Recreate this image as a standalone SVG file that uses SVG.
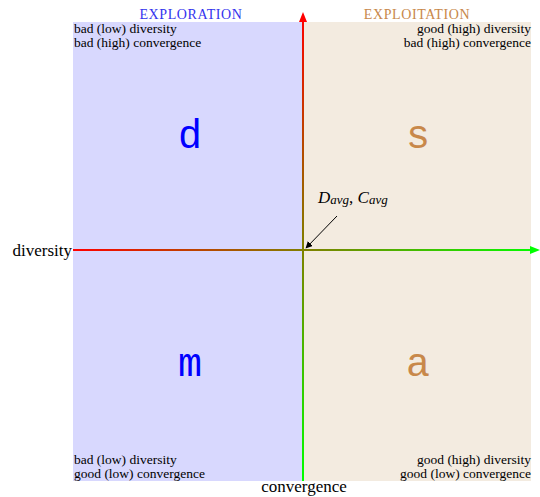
<svg xmlns="http://www.w3.org/2000/svg" width="540" height="497" viewBox="0 0 540 497">
<style>
.t{font-family:"Liberation Serif",serif;font-size:13.5px;fill:#000}
.r{text-anchor:end}
.big{font-family:"Liberation Mono",monospace;font-size:40px;text-anchor:middle}
.hd{font-family:"Liberation Serif",serif;font-size:14px;text-anchor:middle;letter-spacing:0.6px}
.ax{font-family:"Liberation Serif",serif;font-size:17px;fill:#000}
</style>
<defs>
<linearGradient id="gh" x1="73" y1="0" x2="540" y2="0" gradientUnits="userSpaceOnUse">
<stop offset="0" stop-color="#ff0000"/><stop offset="1" stop-color="#00ff00"/>
</linearGradient>
<linearGradient id="gv" x1="0" y1="481" x2="0" y2="12" gradientUnits="userSpaceOnUse">
<stop offset="0" stop-color="#00ff00"/><stop offset="1" stop-color="#ff0000"/>
</linearGradient>
<marker id="ar" viewBox="0 0 10 10" refX="9" refY="5" markerWidth="7" markerHeight="7" orient="auto" markerUnits="userSpaceOnUse"><path d="M0,0 L10,5 L0,10 z" fill="#000"/></marker>
</defs>
<g id="exploration">
<rect x="73" y="22" width="230" height="459" fill="#d8d8fe"/>
<text class="hd" x="191" y="19" fill="#3333ee">EXPLORATION</text>
<text class="t" x="74" y="33">bad (low) diversity</text>
<text class="t" x="74" y="47">bad (high) convergence</text>
<text class="t" x="74" y="464">bad (low) diversity</text>
<text class="t" x="74" y="478">good (low) convergence</text>
<text class="big" x="190" y="148" fill="#0000ff">d</text>
<text class="big" x="190" y="376" fill="#0000ff">m</text>
</g>
<g id="exploitation">
<rect x="303" y="22" width="228" height="459" fill="#f3ebe0"/>
<text class="hd" x="417" y="19" fill="#c8884a">EXPLOITATION</text>
<text class="t r" x="531" y="33">good (high) diversity</text>
<text class="t r" x="531" y="47">bad (high) convergence</text>
<text class="t r" x="531" y="464">good (high) diversity</text>
<text class="t r" x="531" y="478">good (low) convergence</text>
<text class="big" x="418" y="148" fill="#c8884a">s</text>
<text class="big" x="418" y="376" fill="#c8884a">a</text>
</g>
<g id="connectors">
<line x1="73" y1="250" x2="533" y2="250" stroke="url(#gh)" stroke-width="2"/>
<path d="M540,250 L530,246 L530,254 z" fill="#00ff00"/>
<line x1="303" y1="481" x2="303" y2="19" stroke="url(#gv)" stroke-width="2"/>
<path d="M303,12 L299,22 L307,22 z" fill="#ff0000"/>
<line x1="337" y1="216" x2="306" y2="248" stroke="#000" stroke-width="1" marker-end="url(#ar)"/>
</g>
<g id="labels">
<text class="ax r" x="72" y="256">diversity</text>
<text class="ax" x="304" y="492" text-anchor="middle">convergence</text>
<text x="318" y="203" font-family="Liberation Serif,serif" font-size="17" font-style="italic">D<tspan font-size="13" dy="1">avg</tspan><tspan dy="-1" font-style="normal">, </tspan>C<tspan font-size="13" dy="1">avg</tspan></text>
</g>
</svg>
